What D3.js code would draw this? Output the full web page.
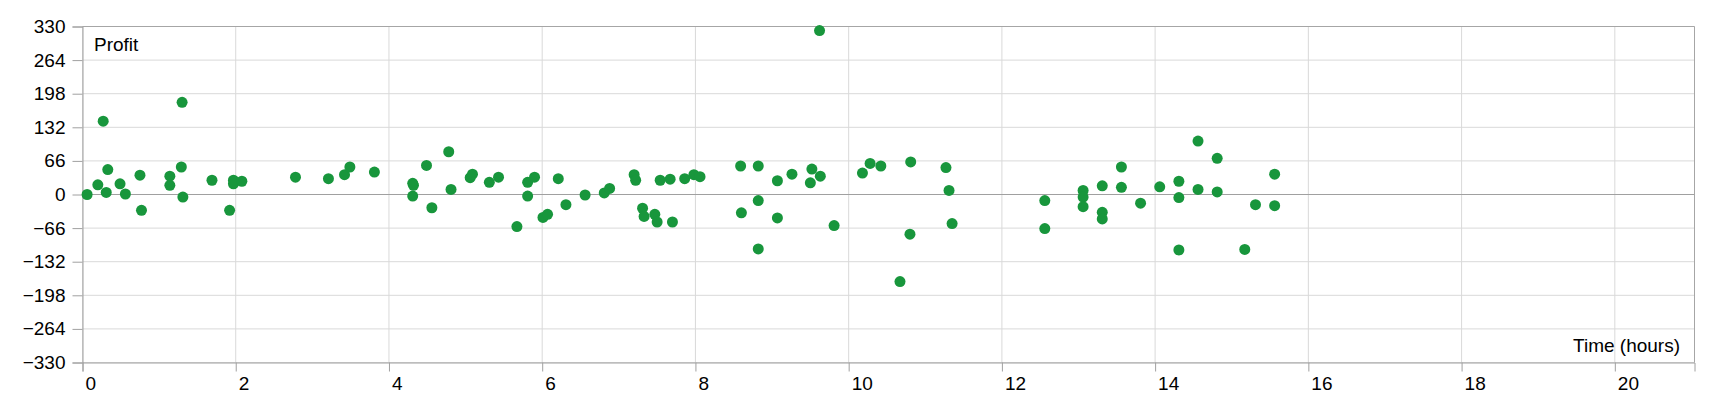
<!DOCTYPE html>
<html>
<head>
<meta charset="utf-8">
<script src="https://cdn.jsdelivr.net/npm/d3@7"></script>
<style>
  body { margin: 0; background: #fff; }
  svg text { font-family: "Liberation Sans", Arial, sans-serif; font-size: 19px; fill: #000; }
</style>
</head>
<body>
<div id="wrapper"></div>
<script>
// tijd in uren en winst per trade
const hours = [
  0.06, 0.2, 0.27, 0.33, 0.31, 0.49, 0.56, 0.75, 0.77, 1.14, 1.14, 1.30, 1.29, 1.31,
  1.69, 1.92, 1.97, 1.97, 2.08, 2.78, 3.21, 3.42, 3.49, 3.81,
  4.31, 4.32, 4.31, 4.49, 4.56, 4.78, 4.81, 5.06, 5.09, 5.31, 5.43, 5.67, 5.81, 5.90, 5.81,
  6.01, 6.07, 6.21, 6.31, 6.56, 6.81, 6.88, 7.20, 7.22, 7.31, 7.33, 7.47, 7.50, 7.54, 7.67, 7.70,
  7.86, 7.98, 8.06, 8.59, 8.60, 8.82, 8.82, 8.82, 9.07, 9.07, 9.26, 9.52, 9.50, 9.62, 9.63, 9.81,
  10.18, 10.28, 10.42, 10.67, 10.81, 10.80, 11.27, 11.31, 11.35,
  12.56, 12.56, 13.06, 13.06, 13.06, 13.31, 13.31, 13.31, 13.56, 13.56, 13.81,
  14.06, 14.31, 14.31, 14.31, 14.56, 14.56, 14.81, 14.81, 15.17, 15.31, 15.56, 15.56
];
const profit = [
  0, 19, 144, 49, 4, 21, 1, 38, -31, 36, 18, 181, 54, -5,
  28, -31, 28, 21, 26, 34, 31, 39, 54, 44,
  22, 18, -3, 57, -26, 84, 10, 33, 40, 24, 34, -63, 24, 34, -3,
  -45, -39, 31, -20, -1, 3, 12, 39, 28, -27, -43, -39, -54, 28, 30, -54,
  31, 39, 35, 56, -36, 56, -12, -107, 27, -46, 40, 50, 23, 322, 36, -61,
  42, 61, 56, -171, 64, -78, 53, 8, -57,
  -12, -67, 8, -5, -24, 17, -35, -48, 54, 14, -17,
  15, 26, -6, -109, 105, 10, 71, 5, -108, -20, 40, -22
];
const yTicks = [-330, -264, -198, -132, -66, 0, 66, 132, 198, 264, 330];
const xTicks = [0, 2, 4, 6, 8, 10, 12, 14, 16, 18, 20];

const width = 1720;
const height = 400;
const margin = { top: 26.5, bottom: 37.5, left: 82.5, right: 25.5 };

const points = hours.map((h, i) => ({ h: h, p: profit[i] }));

const svg = d3.select("#wrapper")
  .append("svg")
  .attr("width", width)
  .attr("height", height);

const x = d3.scaleLinear()
  .domain([0, 21.04])
  .range([margin.left, width - margin.right]);

const y = d3.scaleLinear()
  .domain([-330, 330])
  .range([height - margin.bottom, margin.top]);

// rasterlijnen
svg.append("g")
  .selectAll("line")
  .data(xTicks)
  .join("line")
    .attr("x1", d => x(d)).attr("x2", d => x(d))
    .attr("y1", margin.top).attr("y2", height - margin.bottom)
    .attr("stroke", "#d9d9d9");

svg.append("g")
  .selectAll("line")
  .data(yTicks.filter(d => d !== 0))
  .join("line")
    .attr("x1", margin.left).attr("x2", width - margin.right)
    .attr("y1", d => y(d)).attr("y2", d => y(d))
    .attr("stroke", "#d9d9d9");

// nul-lijn
svg.append("line")
  .attr("x1", margin.left).attr("x2", width - margin.right)
  .attr("y1", y(0)).attr("y2", y(0))
  .attr("stroke", "#a0a0a0");

// kader boven en rechts
svg.append("path")
  .attr("d", `M${margin.left},${margin.top}H${width - margin.right}V${height - margin.bottom}`)
  .attr("fill", "none")
  .attr("stroke", "#a6a6a6");

const yAxis = (g) => {
  g.attr("transform", `translate(${margin.left}, 0)`)
    .call(d3.axisLeft(y).tickValues(yTicks).tickSize(10).tickPadding(7))
    .call(g => g.select(".domain").attr("stroke", "#a0a0a0"))
    .call(g => g.selectAll(".tick line").attr("stroke", "#a0a0a0"))
    .call(g => g.selectAll(".tick text").attr("font-size", null).attr("font-family", null));
};

const xAxis = (g) => {
  g.attr("transform", `translate(0, ${height - margin.bottom})`)
    .call(d3.axisBottom(x).tickValues(xTicks).tickSize(9).tickPadding(0))
    .call(g => g.select(".domain").attr("stroke", "#a0a0a0"))
    .call(g => g.selectAll(".tick line").attr("stroke", "#a0a0a0"))
    .call(g => g.selectAll(".tick text")
      .attr("font-size", null).attr("font-family", null)
      .attr("text-anchor", "start")
      .attr("x", 2.5)
      .attr("dy", null)
      .attr("y", 27.5));
};

svg.append("g").call(yAxis);
svg.append("g").call(xAxis);

// punten
svg.append("g")
  .selectAll("circle")
  .data(points)
  .join("circle")
    .attr("cx", d => x(d.h))
    .attr("cy", d => y(d.p))
    .attr("r", 5.5)
    .attr("fill", "#18963c");

// as-titels binnen het plot
svg.append("text")
  .attr("x", margin.left + 11.5)
  .attr("y", 50.5)
  .text("Profit");

svg.append("text")
  .attr("x", 1680)
  .attr("y", 352)
  .attr("text-anchor", "end")
  .text("Time (hours)");
</script>
</body>
</html>
